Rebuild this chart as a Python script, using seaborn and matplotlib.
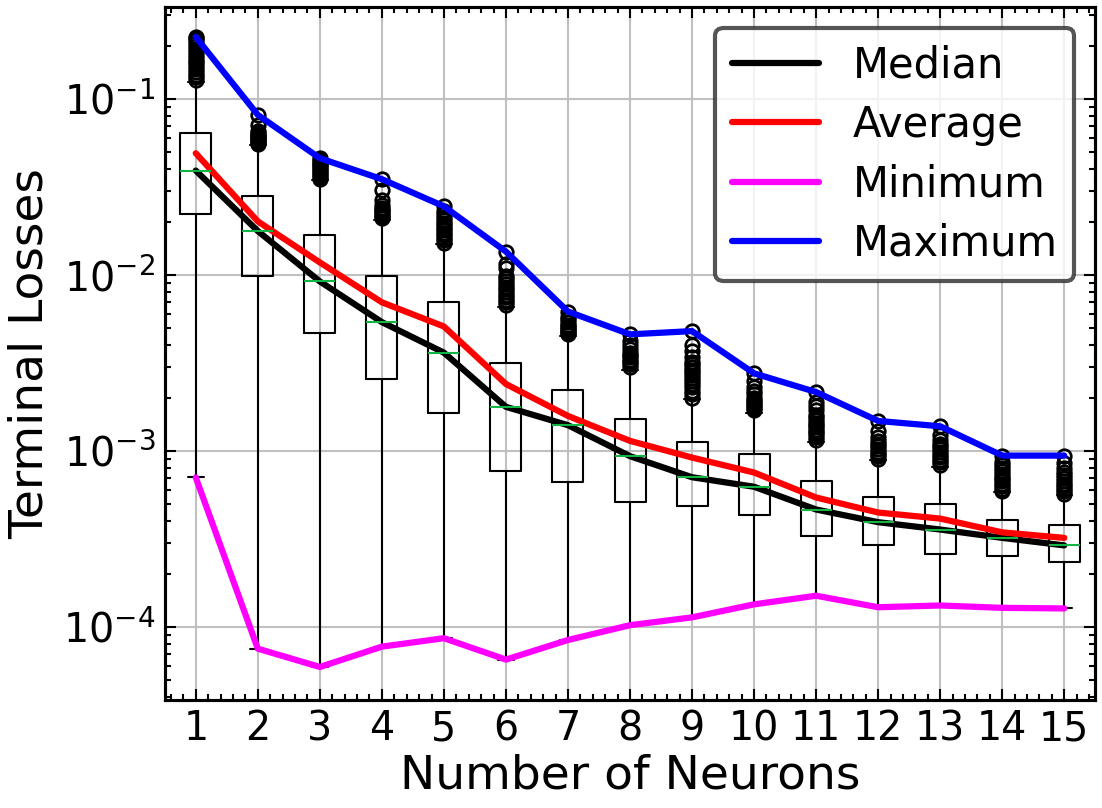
import matplotlib
matplotlib.use('Agg')

import matplotlib.pyplot as plt
import pandas as pd
import seaborn as sns
from matplotlib.ticker import AutoMinorLocator


# ── Data ─────────────────────────────────────────────────────────────────────

neurons = list(range(1, 16))

median_loss  = [0.0393, 0.0178, 0.0092, 0.0054, 0.00362, 0.00178, 0.0014, 0.000933,
                0.000708, 0.000625, 0.000464, 0.000393, 0.000357, 0.00032, 0.00029]
average_loss = [0.0493, 0.0202, 0.0118, 0.0070, 0.0051, 0.0024, 0.00158, 0.00114,
                0.000916, 0.000753, 0.000543, 0.000446, 0.000412, 0.000344, 0.00032]
minimum_loss = [7.06e-4, 7.5e-5, 5.9e-5, 7.7e-5, 8.6e-5, 6.5e-5, 8.4e-5, 1.02e-4,
                1.13e-4, 1.34e-4, 1.50e-4, 1.29e-4, 1.32e-4, 1.28e-4, 1.27e-4]
maximum_loss = [0.226, 0.0815, 0.0462, 0.0351, 0.0246, 0.0136, 0.0062, 0.0046,
                0.0048, 0.00276, 0.00216, 0.00148, 0.00138, 0.00094, 0.00094]

q1_loss = [0.0222, 0.00986, 0.0047, 0.00257, 0.00165, 0.00077, 0.000664, 0.00051,
           0.000485, 0.000429, 0.000327, 0.00029, 0.00026, 0.000253, 0.000234]
q3_loss = [0.0640, 0.0280, 0.0169, 0.00988, 0.00703, 0.00316, 0.00223, 0.00151,
           0.00113, 0.000957, 0.000673, 0.00055, 0.000496, 0.000402, 0.000381]
whisker_hi = [0.125, 0.055, 0.0348, 0.0205, 0.0150, 0.0066, 0.0045, 0.0029,
              0.00198, 0.00165, 0.00113, 0.00089, 0.00081, 0.00058, 0.00056]

flier_values = [
    [0.128, 0.133, 0.138, 0.143, 0.148, 0.154, 0.160, 0.166, 0.172, 0.178, 0.185,
     0.192, 0.200, 0.208, 0.216, 0.222, 0.226],
    [0.056, 0.057, 0.058, 0.059, 0.060, 0.061, 0.062, 0.063, 0.064, 0.066, 0.071, 0.0815],
    [0.0352, 0.036, 0.037, 0.038, 0.039, 0.040, 0.041, 0.042, 0.043, 0.044, 0.0452, 0.0462],
    [0.021, 0.0215, 0.022, 0.0225, 0.023, 0.0235, 0.024, 0.025, 0.0268, 0.0306, 0.0351],
    [0.0153, 0.0158, 0.0163, 0.0168, 0.0174, 0.018, 0.0186, 0.0192, 0.0199, 0.0206,
     0.0214, 0.0222, 0.0232, 0.0246],
    [0.0068, 0.0070, 0.0072, 0.0075, 0.0077, 0.0080, 0.0083, 0.0086, 0.0089, 0.0092,
     0.0096, 0.0099, 0.0110, 0.0116, 0.0136],
    [0.0046, 0.0047, 0.0048, 0.0049, 0.0050, 0.0051, 0.0052, 0.0054, 0.0056, 0.0058, 0.0062],
    [0.0030, 0.0031, 0.0032, 0.0033, 0.0034, 0.0035, 0.0036, 0.0038, 0.0040, 0.0042, 0.0046],
    [0.0020, 0.0021, 0.0022, 0.0023, 0.0024, 0.0025, 0.0026, 0.0027, 0.0028, 0.0029,
     0.0030, 0.0031, 0.0032, 0.0034, 0.0037, 0.0040, 0.0048],
    [0.0017, 0.00175, 0.0018, 0.00185, 0.0019, 0.00195, 0.0020, 0.0021, 0.0022, 0.0023,
     0.0025, 0.00276],
    [0.00115, 0.0012, 0.00124, 0.00128, 0.00132, 0.00136, 0.0014, 0.00145, 0.0015,
     0.00156, 0.0016, 0.0017, 0.0018, 0.0019, 0.00216],
    [0.0009, 0.00093, 0.00096, 0.00099, 0.00102, 0.00106, 0.0011, 0.00114, 0.0012,
     0.0013, 0.00148],
    [0.00083, 0.00086, 0.00089, 0.00092, 0.00095, 0.00098, 0.00102, 0.00106, 0.0011,
     0.00116, 0.00123, 0.00138],
    [0.00059, 0.00061, 0.00063, 0.00065, 0.00067, 0.00069, 0.00071, 0.00074, 0.00077,
     0.0008, 0.00083, 0.00087, 0.00094],
    [0.00057, 0.00059, 0.00061, 0.00063, 0.00065, 0.00067, 0.0007, 0.00073, 0.00076,
     0.0008, 0.00085, 0.00094],
]

series_labels = ['Median', 'Average', 'Minimum', 'Maximum']
series_colors = ['black', 'red', 'magenta', 'blue']


# ── Style ────────────────────────────────────────────────────────────────────

sns.set_style('white')
plt.rcParams['font.family'] = ['DejaVu Sans']
plt.rcParams['mathtext.fontset'] = 'dejavusans'
plt.rcParams['text.color'] = 'black'
plt.rcParams['axes.labelcolor'] = 'black'
plt.rcParams['xtick.color'] = 'black'
plt.rcParams['ytick.color'] = 'black'

fig = plt.figure(figsize=(1102 / 150, 808 / 150), dpi=150)
ax = fig.add_axes([0.1495, 0.1337, 0.8444, 0.858])

# ── Box plots from per-neuron statistics ─────────────────────────────────────

box_stats = []
for i, n in enumerate(neurons):
    box_stats.append({
        'label': str(n),
        'med': median_loss[i],
        'q1': q1_loss[i],
        'q3': q3_loss[i],
        'whislo': minimum_loss[i],
        'whishi': whisker_hi[i],
        'fliers': flier_values[i],
    })

ax.bxp(
    box_stats, positions=neurons, widths=0.5, showfliers=True,
    boxprops=dict(color='black', linewidth=1.0),
    whiskerprops=dict(color='black', linewidth=1.0),
    capprops=dict(color='black', linewidth=1.0),
    medianprops=dict(color='#12b443', linewidth=1.0),
    flierprops=dict(marker='o', markerfacecolor='none', markeredgecolor='black',
                    markersize=6.5, markeredgewidth=1.3),
)

# ── Summary lines ────────────────────────────────────────────────────────────

lines_df = pd.DataFrame({
    'Neurons': neurons * 4,
    'Loss': median_loss + average_loss + minimum_loss + maximum_loss,
    'Series': [s for s in series_labels for _ in neurons],
})

for label, color in zip(series_labels, series_colors):
    sns.lineplot(data=lines_df[lines_df['Series'] == label], x='Neurons', y='Loss',
                 color=color, linewidth=3, label=label, ax=ax)

# ── Axes ─────────────────────────────────────────────────────────────────────

ax.set_yscale('log')
ax.set_xlim(0.5, 15.5)
ax.set_ylim(3.83e-5, 0.336)
ax.set_xticks(neurons)
ax.set_xticklabels([str(n) for n in neurons])
ax.xaxis.set_minor_locator(AutoMinorLocator(5))

ax.grid(True, which='major', color='#c0c0c0', linewidth=1.0)
ax.set_axisbelow(True)

ax.tick_params(which='both', direction='in', top=True, right=True, bottom=True,
               left=True, labelsize=19, colors='black')
ax.tick_params(which='major', length=5.5, width=1.0, pad=4.5)
ax.tick_params(which='minor', length=3, width=1.0)
for spine in ax.spines.values():
    spine.set_linewidth(1.5)
    spine.set_color('black')

ax.set_xlabel('Number of Neurons', fontsize=22.6, labelpad=2)
ax.set_ylabel('Terminal Losses', fontsize=22.6, labelpad=5)

leg = ax.legend(loc='upper right', fontsize=20, handlelength=2.1, labelspacing=0.42,
                frameon=True, fancybox=True, framealpha=0.8)
leg.get_frame().set_edgecolor('#2a2a2a')
leg.get_frame().set_linewidth(2.0)
for text in leg.get_texts():
    text.set_color('black')

fig.savefig('out.png', dpi=150)
plt.close(fig)
